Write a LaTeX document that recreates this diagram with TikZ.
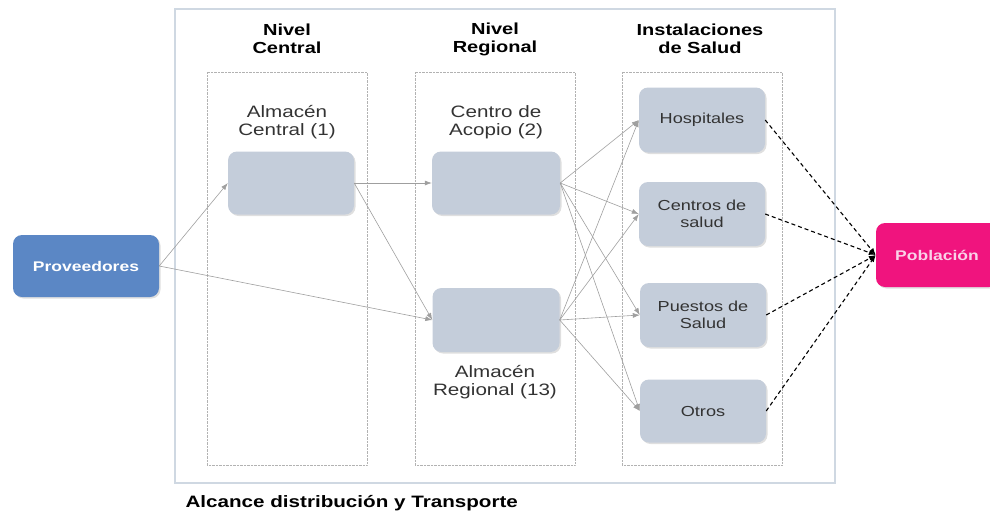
\documentclass[tikz,border=0pt]{standalone}
\usepackage{fontspec}
\setmainfont{Liberation Sans}[FakeStretch=1.25]
\usetikzlibrary{arrows.meta,shadows}
\definecolor{cajagris}{HTML}{C4CDDA}
\definecolor{azulprov}{HTML}{5B87C5}
\definecolor{rosapob}{HTML}{F0147E}
\definecolor{rosatexto}{HTML}{FAD2E8}
\definecolor{marco}{HTML}{CFD8E2}
\definecolor{textogris}{HTML}{333333}
\tikzset{
  caja/.style={fill=cajagris, rounded corners=9pt, minimum width=126pt, minimum height=63pt,
    align=center, text=textogris, font=\fontsize{14.5}{17}\selectfont,
    drop shadow={shadow xshift=1.5pt, shadow yshift=-1.5pt, opacity=0.25, fill=gray}},
  titulo/.style={align=center, font=\bfseries\fontsize{16}{18}\selectfont},
  etiqueta/.style={align=center, text=textogris, font=\fontsize{16.5}{18}\selectfont},
  flecha/.style={->, gray!75, line width=0.6pt},
  discont/.style={->, black, line width=1.1pt, dash pattern=on 4pt off 3pt}
}
\begin{document}
\begin{tikzpicture}[x=1pt, y=-1pt, >={Latex[length=7pt,width=5pt]}]
  \useasboundingbox (0,0) rectangle (990,512);
  % marco general y columnas
  \draw[marco, line width=1.2pt] (175,9) rectangle (835,483);
  \foreach \xa/\xb in {207/367, 415/575, 622/782}
    \draw[gray!60, densely dotted] (\xa,72) rectangle (\xb,465);
  \node[titulo] (tcentral) at (287,39) {Nivel\\Central};
  \node[titulo] (tregional) at (495,39) {Nivel\\Regional};
  \node[titulo] (tsalud) at (700,39) {Instalaciones\\de Salud};
  \node[etiqueta] (lcentral) at (287,122) {Almacén\\Central (1)};
  \node[etiqueta] (lacopio) at (496,122) {Centro de\\Acopio (2)};
  \node[etiqueta] (lregional) at (495,382) {Almacén\\Regional (13)};
  \node[font=\bfseries\fontsize{16.5}{18}\selectfont, anchor=west] (alcance) at (182,503) {Alcance distribución y Transporte};
  % cajas
  \node[caja, fill=azulprov, minimum width=146pt, minimum height=62pt, text=white,
        font=\bfseries\fontsize{14}{16}\selectfont] (prov) at (86,266) {Proveedores};
  \node[caja] (acentral) at (291,183) {};
  \node[caja, minimum width=128pt] (acopio) at (496,183) {};
  \node[caja, minimum width=127pt, minimum height=64pt] (aregional) at (496,320) {};
  \node[caja, minimum height=65pt] (hosp) at (702,120) {Hospitales};
  \node[caja, minimum height=64pt] (csalud) at (702,214) {Centros de\\salud};
  \node[caja, minimum height=64pt] (psalud) at (703,315) {Puestos de\\Salud};
  \node[caja, minimum height=63pt] (otros) at (703,411) {Otros};
  \node[caja, fill=rosapob, minimum width=122pt, minimum height=64pt, text=rosatexto,
        font=\bfseries\fontsize{14}{16}\selectfont] (pob) at (937,255) {Población};
  % conexiones
  \draw[flecha] (prov.east) -- (acentral.west);
  \draw[flecha] (prov.east) -- (aregional.west);
  \draw[flecha] (acentral.east) -- (acopio.west);
  \draw[flecha] (acentral.east) -- (aregional.west);
  \foreach \a in {acopio, aregional}
    \foreach \b in {hosp, csalud, psalud, otros}
      \draw[flecha] (\a.east) -- (\b.west);
  \foreach \b in {hosp, csalud, psalud, otros}
    \draw[discont] (\b.east) -- (pob.west);
\end{tikzpicture}
\end{document}
